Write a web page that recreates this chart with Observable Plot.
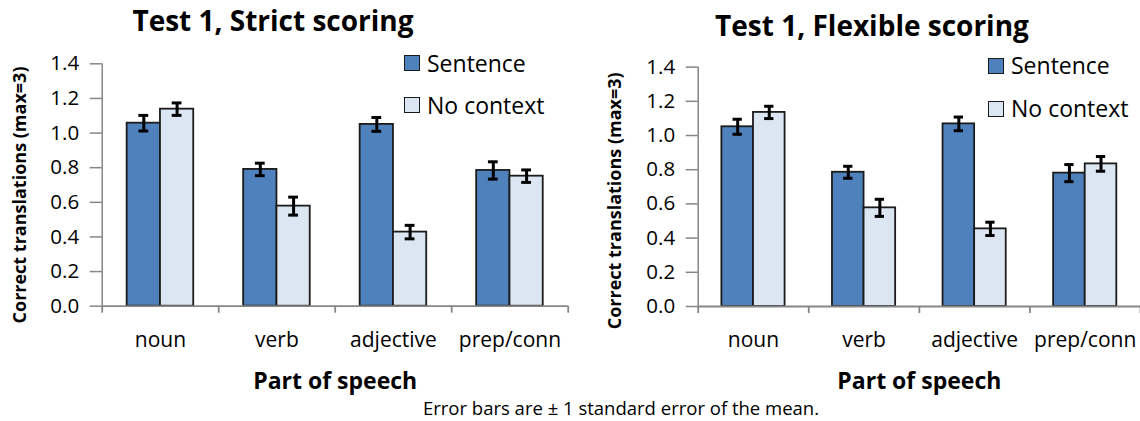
<!DOCTYPE html>
<html><head><meta charset="utf-8">
<script src="https://cdn.jsdelivr.net/npm/d3@7"></script>
<script src="https://cdn.jsdelivr.net/npm/@observablehq/plot@0.6"></script>
<style>
html,body{margin:0;padding:0;background:#fff;}
body{width:1140px;height:421px;position:relative;overflow:hidden;font-family:"Open Sans",sans-serif;color:#000;}
.panel{position:absolute;top:0;}
.title{position:absolute;font-weight:bold;font-size:28px;line-height:28px;white-space:nowrap;transform:translateX(-50%);}
.legend{position:absolute;font-size:23px;}
.legend .row{display:flex;align-items:center;height:23px;line-height:23px;white-space:nowrap;}
.legend .sw{width:14px;height:14px;border:1.5px solid #1b1b1b;margin-right:7px;flex:none;}
.caption{position:absolute;font-size:18.5px;line-height:18px;white-space:nowrap;transform:translateX(-50%);}
</style></head><body>
<script>
// ---- data ----
const categories = ["noun", "verb", "adjective", "prep/conn"];
const seriesNames = ["Sentence", "No context"];
const seriesColors = ["#4f81bd", "#dce6f2"];
const yTicks = [0, 0.2, 0.4, 0.6, 0.8, 1.0, 1.2, 1.4];

const strictSentence     = [1.057, 0.790, 1.050, 0.784];
const strictSentenceSE   = [0.045, 0.036, 0.040, 0.050];
const strictNoContext    = [1.138, 0.578, 0.428, 0.751];
const strictNoContextSE  = [0.036, 0.052, 0.039, 0.036];

const flexSentence       = [1.051, 0.785, 1.068, 0.780];
const flexSentenceSE     = [0.044, 0.035, 0.040, 0.050];
const flexNoContext      = [1.135, 0.577, 0.454, 0.834];
const flexNoContextSE    = [0.036, 0.050, 0.039, 0.043];

const titles = ["Test 1, Strict scoring", "Test 1, Flexible scoring"];
const yLabel = "Correct translations (max=3)";
const xLabel = "Part of speech";
const caption = "Error bars are \u00b1 1 standard error of the mean.";

// ---- build ----
const gapWidth = 1.5; // Excel-style gap width (150%)
function rowsFor(sent, sentSE, noc, nocSE) {
  const bw = 1 / (2 + gapWidth);
  const rows = [];
  categories.forEach((c, i) => {
    [[sent, sentSE], [noc, nocSE]].forEach(([v, se], s) => {
      const x1 = i + gapWidth * bw / 2 + s * bw;
      rows.push({category: c, series: seriesNames[s], x1, x2: x1 + bw, xc: x1 + bw / 2, value: v[i], se: se[i]});
    });
  });
  return rows;
}

function makePanel(rows, o) {
  const axisGray = "#868686";
  const capHalf = 0.042;
  return Plot.plot({
    width: o.width, height: o.height,
    marginLeft: o.marginLeft, marginRight: o.marginRight,
    marginTop: o.marginTop, marginBottom: o.marginBottom,
    style: {fontFamily: "Open Sans, sans-serif", fontSize: "20px", color: "#000", background: "transparent", overflow: "visible"},
    x: {domain: [0, categories.length]},
    y: {domain: [0, 1.4]},
    color: {domain: seriesNames, range: seriesColors},
    marks: [
      Plot.rectY(rows, {x1: "x1", x2: "x2", y: "value", fill: "series", stroke: "#1b1b1b", strokeWidth: 1.8}),
      Plot.ruleX(rows, {x: "xc", y1: d => d.value - d.se, y2: d => d.value + d.se, stroke: "#000", strokeWidth: 3}),
      Plot.ruleY(rows, {x1: d => d.xc - capHalf, x2: d => d.xc + capHalf, y: d => d.value + d.se, stroke: "#000", strokeWidth: 3}),
      Plot.ruleY(rows, {x1: d => d.xc - capHalf, x2: d => d.xc + capHalf, y: d => d.value - d.se, stroke: "#000", strokeWidth: 3}),
      Plot.ruleX([0], {stroke: axisGray, strokeWidth: 1.5}),
      Plot.ruleY([0], {stroke: axisGray, strokeWidth: 1.8}),
      Plot.axisY(yTicks, {tickSize: 12, tickPadding: 11, tickFormat: d3.format(".1f"), stroke: axisGray, strokeWidth: 1.5, fill: "#000", fontSize: 20.5, label: null}),
      Plot.axisX(d3.range(categories.length + 1), {tickSize: 7, tickFormat: () => "", stroke: axisGray, strokeWidth: 1.8, label: null}),
      Plot.axisX(categories.map((c, i) => i + 0.5), {tickSize: 0, tickPadding: 26, tickFormat: d => categories[Math.floor(d)], fill: "#000", fontSize: 21, label: null}),
      Plot.text([xLabel], {text: d => d, frameAnchor: "bottom", lineAnchor: "middle", textAnchor: "middle", dy: 75, fontWeight: "bold", fontSize: 23}),
      Plot.text([yLabel], {text: d => d, frameAnchor: "left", lineAnchor: "middle", textAnchor: "middle", rotate: -90, dx: o.yLabelDx, dy: o.yLabelDy, fontWeight: "bold", fontSize: 18})
    ]
  });
}

function addPanel(rows, o) {
  const div = document.createElement("div");
  div.className = "panel";
  div.style.left = o.left + "px";
  div.appendChild(makePanel(rows, o));
  document.body.appendChild(div);
}

function addTitle(text, cx, top) {
  const t = document.createElement("div");
  t.className = "title";
  t.style.left = cx + "px"; t.style.top = top + "px";
  t.textContent = text;
  document.body.appendChild(t);
}

function addLegend(left, top, gap) {
  const lg = document.createElement("div");
  lg.className = "legend";
  lg.style.left = left + "px"; lg.style.top = top + "px";
  seriesNames.forEach((name, i) => {
    const row = document.createElement("div");
    row.className = "row";
    if (i > 0) row.style.marginTop = gap + "px";
    const sw = document.createElement("div");
    sw.className = "sw"; sw.style.background = seriesColors[i];
    const tx = document.createElement("span");
    tx.textContent = name;
    row.appendChild(sw); row.appendChild(tx);
    lg.appendChild(row);
  });
  document.body.appendChild(lg);
}

addPanel(rowsFor(strictSentence, strictSentenceSE, strictNoContext, strictNoContextSE), {
  left: 0, width: 570, height: 400, marginLeft: 101.7, marginRight: 2.3, marginTop: 63.3, marginBottom: 94.3,
  yLabelDx: -82, yLabelDy: 10
});
addPanel(rowsFor(flexSentence, flexSentenceSE, flexNoContext, flexNoContextSE), {
  left: 570, width: 570, height: 400, marginLeft: 127.7, marginRight: 0, marginTop: 66.6, marginBottom: 94,
  yLabelDx: -83, yLabelDy: 14
});

addTitle(titles[0], 273, 6);
addTitle(titles[1], 872, 11);
addLegend(404, 51.5, 19);
addLegend(988, 54, 20);

const cap = document.createElement("div");
cap.className = "caption";
cap.style.left = "621px"; cap.style.top = "399px";
cap.textContent = caption;
document.body.appendChild(cap);
</script>
</body></html>
